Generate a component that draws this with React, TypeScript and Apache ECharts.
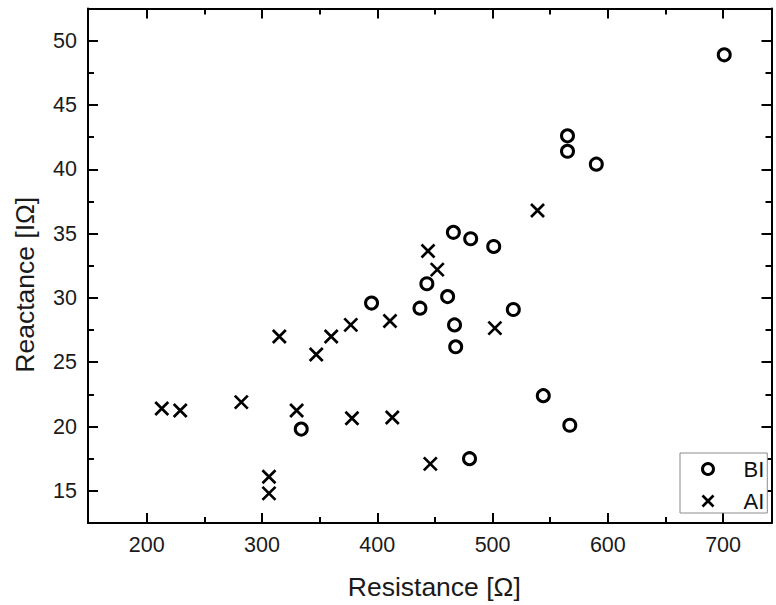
import React, { useEffect, useRef } from "react";
import * as echarts from "echarts";

// ---- data ----
const biResistance = [334, 395, 437, 443, 461, 467, 468, 466, 481, 501, 518, 480, 544, 567, 565, 565, 590, 701];
const biReactance = [19.8, 29.6, 29.2, 31.1, 30.1, 27.9, 26.2, 35.1, 34.6, 34.0, 29.1, 17.5, 22.4, 20.1, 42.6, 41.4, 40.4, 48.9];

const aiResistance = [213, 229, 282, 306, 306, 330, 315, 347, 360, 377, 378, 411, 413, 444, 452, 446, 502, 539];
const aiReactance = [21.4, 21.25, 21.9, 16.1, 14.8, 21.25, 27.0, 25.6, 27.0, 27.9, 20.65, 28.2, 20.7, 33.65, 32.2, 17.1, 27.65, 36.8];

const xMajorTicks = [200, 300, 400, 500, 600, 700];
const xMinorTicks = [250, 350, 450, 550, 650];
const yMajorTicks = [15, 20, 25, 30, 35, 40, 45, 50];
const yMinorTicks = [17.5, 22.5, 27.5, 32.5, 37.5, 42.5, 47.5];

const X_MIN = 149;
const X_MAX = 742;
const Y_MIN = 12.5;
const Y_MAX = 52.5;

const FONT = "'Liberation Sans', Arial, Helvetica, sans-serif";

export default function App() {
  const ref = useRef<HTMLDivElement>(null);

  useEffect(() => {
    document.body.style.margin = "0";
    if (!ref.current) return;
    const chart = echarts.init(ref.current, undefined, { renderer: "svg" });

    const axisLineStyle = { color: "#000", width: 2 };
    const mkX = (position: string, ticks: number[], len: number, main: boolean) => ({
      type: "value",
      position,
      min: X_MIN,
      max: X_MAX,
      axisLine: { show: main, onZero: false, lineStyle: axisLineStyle },
      axisTick: { show: true, inside: true, length: len, customValues: ticks, lineStyle: { color: "#000", width: 2 } },
      axisLabel: main && position === "bottom"
        ? { show: true, customValues: xMajorTicks, margin: 11, fontSize: 21.5, color: "#1a1a1a", fontFamily: FONT }
        : { show: false },
      splitLine: { show: false },
      ...(main && position === "bottom"
        ? {
            name: "Resistance [Ω]",
            nameLocation: "middle",
            nameGap: 50,
            nameTextStyle: { fontSize: 26.5, color: "#1a1a1a", fontFamily: FONT, padding: [0, 0, 0, 9] },
          }
        : {}),
    });
    const mkY = (position: string, ticks: number[], len: number, main: boolean) => ({
      type: "value",
      position,
      min: Y_MIN,
      max: Y_MAX,
      axisLine: { show: main, onZero: false, lineStyle: axisLineStyle },
      axisTick: { show: true, inside: true, length: len, customValues: ticks, lineStyle: { color: "#000", width: 2 } },
      axisLabel: main && position === "left"
        ? { show: true, customValues: yMajorTicks, margin: 11, fontSize: 21.5, color: "#1a1a1a", fontFamily: FONT }
        : { show: false },
      splitLine: { show: false },
      ...(main && position === "left"
        ? {
            name: "Reactance [IΩ]",
            nameLocation: "middle",
            nameGap: 50,
            nameTextStyle: { fontSize: 26.5, color: "#1a1a1a", fontFamily: FONT, padding: [0, 38, 0, 0] },
          }
        : {}),
    });

    chart.setOption({
      animation: false,
      backgroundColor: "#fff",
      grid: { left: 88, right: 4.5, top: 8.5, bottom: 81.5, containLabel: false },
      xAxis: [
        mkX("bottom", xMajorTicks, 10, true),
        mkX("bottom", xMinorTicks, 6, false),
        mkX("top", xMajorTicks, 10, true),
        mkX("top", xMinorTicks, 6, false),
      ],
      yAxis: [
        mkY("left", yMajorTicks, 10, true),
        mkY("left", yMinorTicks, 6, false),
        mkY("right", yMajorTicks, 10, true),
        mkY("right", yMinorTicks, 6, false),
      ],
      legend: {
        left: 680,
        top: 453,
        orient: "vertical",
        itemWidth: 11,
        itemHeight: 11,
        itemGap: 10,
        padding: [5, 3, 1, 20],
        borderColor: "#8c8c8c",
        borderWidth: 1,
        backgroundColor: "#fff",
        selectedMode: false,
        textStyle: { fontSize: 22, color: "#111", fontFamily: FONT, padding: [0, 0, 0, 25] },
        data: [
          { name: "BI", itemStyle: { color: "none", borderColor: "#000", borderWidth: 3 } },
          { name: "AI", itemStyle: { color: "none", borderColor: "#000", borderWidth: 2.7 } },
        ],
      },
      series: [
        {
          name: "BI",
          type: "scatter",
          xAxisIndex: 0,
          yAxisIndex: 0,
          symbol: "circle",
          symbolSize: 12,
          itemStyle: { color: "none", borderColor: "#000", borderWidth: 3, opacity: 1 },
          data: biResistance.map((x, i) => [x, biReactance[i]]),
        },
        {
          name: "AI",
          type: "scatter",
          xAxisIndex: 0,
          yAxisIndex: 0,
          symbol: "path://M0,0L10,10M10,0L0,10",
          symbolSize: 13,
          itemStyle: { color: "none", borderColor: "#000", borderWidth: 2.7, opacity: 1 },
          data: aiResistance.map((x, i) => [x, aiReactance[i]]),
        },
      ],
    });

    return () => chart.dispose();
  }, []);

  return <div ref={ref} style={{ width: 776, height: 605 }} />;
}
